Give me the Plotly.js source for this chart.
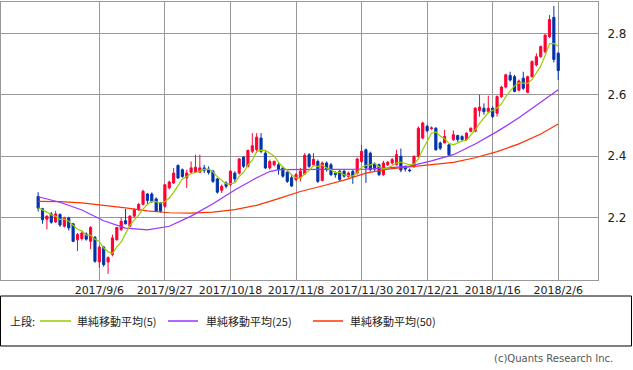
<!DOCTYPE html>
<html><head><meta charset="utf-8">
<script src="https://cdn.plot.ly/plotly-3.0.1.min.js"></script>
<style>html,body{margin:0;padding:0;background:#fff;}#chart{width:633px;height:370px;}</style>
</head><body><div id="chart"></div>
<script>
// x tick labels (every 15 trading bars)
const tickIdx = [14, 29, 44, 59, 74, 89, 104, 119];
const tickLabels = ['2017/9/6', '2017/9/27', '2017/10/18', '2017/11/8', '2017/11/30', '2017/12/21', '2018/1/16', '2018/2/6'];

// candle data (bar 0 .. 119)
const openV = [2.269,2.229,2.195,2.212,2.186,2.210,2.172,2.199,2.180,2.128,
 2.132,2.147,2.123,2.136,2.056,2.104,2.056,2.080,2.128,2.161,
 2.190,2.172,2.205,2.226,2.243,2.277,2.277,2.261,2.248,2.237,
 2.297,2.313,2.370,2.356,2.329,2.348,2.348,2.348,2.362,2.358,
 2.351,2.326,2.289,2.313,2.308,2.345,2.345,2.397,2.367,2.416,
 2.421,2.459,2.410,2.362,2.372,2.372,2.362,2.348,2.330,2.324,
 2.329,2.342,2.405,2.372,2.383,2.321,2.378,2.372,2.345,2.351,
 2.351,2.334,2.351,2.345,2.383,2.421,2.410,2.375,2.372,2.340,
 2.372,2.378,2.372,2.400,2.365,2.355,2.367,2.399,2.459,2.497,
 2.490,2.491,2.443,2.443,2.437,2.454,2.467,2.464,2.454,2.481,
 2.481,2.549,2.556,2.546,2.556,2.540,2.594,2.625,2.663,2.659,
 2.615,2.654,2.608,2.659,2.697,2.724,2.740,2.789,2.852,2.735];
const highV = [2.283,2.232,2.207,2.218,2.222,2.214,2.203,2.203,2.183,2.150,
 2.156,2.152,2.172,2.140,2.110,2.108,2.074,2.145,2.170,2.201,
 2.228,2.208,2.230,2.248,2.291,2.280,2.282,2.266,2.251,2.310,
 2.320,2.362,2.373,2.360,2.356,2.383,2.405,2.405,2.372,2.367,
 2.356,2.329,2.308,2.318,2.356,2.351,2.394,2.401,2.421,2.475,
 2.475,2.475,2.416,2.389,2.386,2.378,2.367,2.351,2.340,2.345,
 2.362,2.410,2.410,2.410,2.389,2.383,2.383,2.378,2.351,2.356,
 2.356,2.350,2.356,2.395,2.437,2.425,2.415,2.380,2.376,2.385,
 2.385,2.394,2.421,2.425,2.370,2.360,2.403,2.497,2.512,2.502,
 2.497,2.495,2.448,2.486,2.440,2.484,2.470,2.468,2.478,2.494,
 2.560,2.600,2.572,2.597,2.562,2.598,2.629,2.668,2.675,2.665,
 2.650,2.675,2.662,2.712,2.735,2.760,2.798,2.860,2.889,2.740];
const lowV = [2.220,2.180,2.162,2.180,2.183,2.170,2.168,2.158,2.120,2.091,
 2.126,2.125,2.097,2.053,2.037,2.040,2.017,2.074,2.125,2.156,
 2.178,2.170,2.200,2.222,2.240,2.243,2.248,2.218,2.216,2.232,
 2.292,2.310,2.327,2.330,2.297,2.345,2.345,2.347,2.345,2.340,
 2.313,2.278,2.280,2.295,2.302,2.316,2.340,2.362,2.364,2.410,
 2.410,2.410,2.358,2.356,2.367,2.340,2.330,2.313,2.300,2.318,
 2.318,2.340,2.362,2.368,2.313,2.318,2.350,2.335,2.330,2.318,
 2.330,2.330,2.310,2.340,2.378,2.313,2.350,2.352,2.335,2.336,
 2.368,2.372,2.370,2.348,2.350,2.348,2.362,2.395,2.455,2.478,
 2.486,2.418,2.420,2.443,2.400,2.450,2.446,2.450,2.452,2.478,
 2.478,2.529,2.535,2.540,2.524,2.529,2.590,2.621,2.643,2.608,
 2.611,2.616,2.605,2.655,2.692,2.720,2.735,2.785,2.705,2.648];
const closeV = [2.231,2.193,2.205,2.185,2.212,2.176,2.199,2.167,2.123,2.145,
 2.150,2.130,2.168,2.058,2.104,2.047,2.070,2.134,2.168,2.188,
 2.180,2.205,2.226,2.243,2.286,2.256,2.253,2.221,2.221,2.307,
 2.316,2.345,2.329,2.334,2.345,2.362,2.364,2.362,2.354,2.347,
 2.318,2.283,2.302,2.302,2.351,2.326,2.391,2.367,2.419,2.434,
 2.462,2.416,2.362,2.383,2.383,2.356,2.335,2.318,2.303,2.340,
 2.351,2.403,2.367,2.390,2.318,2.378,2.356,2.340,2.340,2.324,
 2.335,2.345,2.334,2.391,2.416,2.362,2.356,2.358,2.340,2.378,
 2.380,2.389,2.405,2.355,2.358,2.353,2.399,2.491,2.508,2.483,
 2.492,2.421,2.426,2.464,2.405,2.470,2.454,2.454,2.475,2.491,
 2.556,2.560,2.545,2.556,2.529,2.594,2.625,2.665,2.648,2.611,
 2.645,2.621,2.659,2.708,2.724,2.757,2.794,2.845,2.715,2.679];

// moving averages
const ma5 = [2.232,2.226,2.218,2.209,2.205,2.194,2.195,2.188,2.175,2.162,
 2.157,2.143,2.143,2.130,2.122,2.101,2.089,2.083,2.105,2.121,
 2.148,2.175,2.193,2.208,2.228,2.243,2.253,2.252,2.247,2.252,
 2.264,2.282,2.304,2.326,2.334,2.343,2.347,2.353,2.357,2.358,
 2.349,2.333,2.321,2.310,2.311,2.313,2.334,2.347,2.371,2.387,
 2.415,2.420,2.419,2.411,2.401,2.380,2.364,2.355,2.339,2.330,
 2.329,2.343,2.353,2.370,2.366,2.371,2.362,2.356,2.346,2.348,
 2.339,2.337,2.336,2.346,2.364,2.370,2.372,2.377,2.366,2.359,
 2.362,2.369,2.378,2.381,2.377,2.372,2.374,2.391,2.422,2.447,
 2.475,2.479,2.466,2.457,2.442,2.437,2.444,2.449,2.452,2.469,
 2.486,2.507,2.525,2.542,2.549,2.557,2.570,2.594,2.612,2.629,
 2.639,2.638,2.637,2.649,2.671,2.694,2.728,2.766,2.767,2.758];
const ma25Idx = [0,5,10,15,20,25,30,35,40,45,50,53,55,60,65,70,75,80,85,90,95,100,105,110,115,119];
const ma25 = [2.268,2.250,2.225,2.190,2.166,2.160,2.172,2.205,2.245,2.290,2.330,2.350,2.356,2.357,2.357,2.357,2.358,2.362,2.368,2.385,2.405,2.440,2.480,2.525,2.575,2.616];
const ma50Idx = [0,5,10,15,20,25,30,35,40,45,50,55,60,65,70,75,80,85,90,95,100,105,110,115,119];
const ma50 = [2.253,2.252,2.248,2.241,2.232,2.222,2.216,2.215,2.218,2.226,2.240,2.262,2.285,2.303,2.322,2.345,2.358,2.365,2.372,2.380,2.395,2.415,2.440,2.472,2.505];

const seriesNames = ['単純移動平均(5)', '単純移動平均(25)', '単純移動平均(50)'];
const seriesColors = ['#99cc00', '#9933ff', '#ff3300'];
const legendTitle = '上段:';
const copyright = '(c)Quants Research Inc.';

const idx = closeV.map((_, i) => i);
const ma5Idx = ma5.map((_, i) => i);

const traces = [
  {type: 'scatter', mode: 'lines', x: ma50Idx, y: ma50, line: {color: seriesColors[2], width: 1.2}, hoverinfo: 'skip'},
  {type: 'scatter', mode: 'lines', x: ma25Idx, y: ma25, line: {color: seriesColors[1], width: 1.2}, hoverinfo: 'skip'},
  {type: 'candlestick', x: idx, open: openV, high: highV, low: lowV, close: closeV,
   increasing: {line: {color: '#ff0033', width: 1}, fillcolor: '#ff0033'},
   decreasing: {line: {color: '#0033aa', width: 1}, fillcolor: '#0033aa'},
   whiskerwidth: 0},
  {type: 'scatter', mode: 'lines', x: ma5Idx, y: ma5, line: {color: seriesColors[0], width: 1.2}, hoverinfo: 'skip'}
];

// pixel helpers for decorations outside the plot
const W = 633, H = 370, L = 1, R = 35, T = 2, B = 90;
const pw = W - L - R, ph = H - T - B;
const px = v => (v - L) / pw;
const py = v => (H - B - v) / ph;

const font = {family: 'Noto Sans CJK JP, DejaVu Sans, sans-serif', size: 11, color: '#222'};
const shapes = [
  {type: 'rect', xref: 'paper', yref: 'paper', x0: px(0.5), x1: px(631.5), y0: py(346), y1: py(296), line: {color: '#000', width: 1}}
];
const annotations = [
  {xref: 'paper', yref: 'paper', x: px(8), y: py(321), xanchor: 'left', yanchor: 'middle', text: legendTitle, showarrow: false, font: font}
];
const legendPos = [[40, 71, 75], [168, 198, 204], [313, 343, 348]];
seriesNames.forEach((n, k) => {
  const p = legendPos[k];
  shapes.push({type: 'line', xref: 'paper', yref: 'paper', x0: px(p[0]), x1: px(p[1]), y0: py(321), y1: py(321), line: {color: seriesColors[k], width: 1.5}});
  annotations.push({xref: 'paper', yref: 'paper', x: px(p[2]), y: py(321), xanchor: 'left', yanchor: 'middle', text: n, showarrow: false, font: font});
});
annotations.push({xref: 'paper', yref: 'paper', x: px(615), y: py(358), xanchor: 'right', yanchor: 'middle', text: copyright, showarrow: false, font: {family: 'DejaVu Sans, sans-serif', size: 10, color: '#555'}});

const layout = {
  width: W, height: H,
  margin: {l: L, r: R, t: T, b: B, pad: 0},
  paper_bgcolor: '#fff', plot_bgcolor: '#fff',
  showlegend: false,
  xaxis: {type: 'linear', range: [-8.5, 128.1], tickmode: 'array', tickvals: tickIdx, ticktext: tickLabels,
          showgrid: true, gridcolor: '#999', gridwidth: 1, zeroline: false,
          showline: true, mirror: true, linecolor: '#999', linewidth: 1,
          ticks: '', tickfont: {family: 'DejaVu Sans, sans-serif', size: 11, color: '#222'},
          rangeslider: {visible: false}, fixedrange: true},
  yaxis: {side: 'right', range: [1.997, 2.902], tickmode: 'array', tickvals: [2.2, 2.4, 2.6, 2.8], ticktext: ['2.2', '2.4', '2.6', '2.8'],
          showgrid: true, gridcolor: '#999', gridwidth: 1, zeroline: false,
          showline: true, mirror: true, linecolor: '#999', linewidth: 1,
          ticks: '', ticklabelstandoff: 6, tickfont: {family: 'DejaVu Sans, sans-serif', size: 12, color: '#222'}, fixedrange: true},
  shapes: shapes,
  annotations: annotations
};
Plotly.newPlot('chart', traces, layout, {staticPlot: true, displayModeBar: false});
</script>
</body></html>
